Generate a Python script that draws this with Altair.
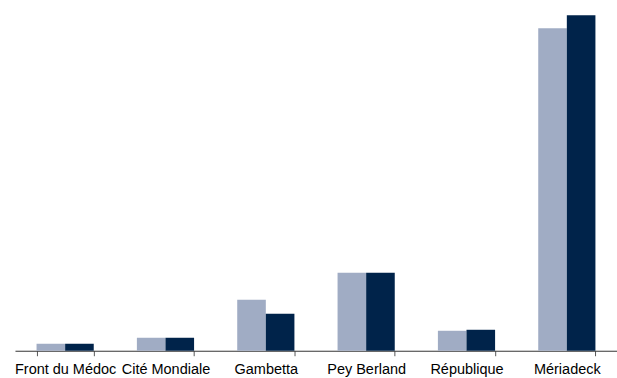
import altair as alt
import pandas as pd

# Sites and the two series compared at each one
sites = ["Front du Médoc", "Cité Mondiale", "Gambetta", "Pey Berland", "République", "Mériadeck"]
series = ["Série A", "Série B"]
values_a = [7, 13, 51, 78, 20, 323]
values_b = [7, 13, 37, 78, 21, 336]

colors = ["#A0ACC4", "#00234A"]

rows = []
for s, a, b in zip(sites, values_a, values_b):
    rows.append({"site": s, "serie": series[0], "valeur": a})
    rows.append({"site": s, "serie": series[1], "valeur": b})
df = pd.DataFrame(rows)

chart = (
    alt.Chart(df)
    .mark_bar()
    .encode(
        x=alt.X(
            "site:N",
            sort=sites,
            scale=alt.Scale(paddingInner=0.43, paddingOuter=0.215),
            axis=alt.Axis(
                title=None,
                labelAngle=0,
                ticks=True,
                tickBand="extent",
                domainColor="#333333",
                domainWidth=1,
                tickColor="#555555",
                tickWidth=1,
                tickSize=5,
                labelFont="Liberation Sans",
                labelFontSize=14.5,
                labelColor="#000000",
                labelPadding=7,
                labelOverlap=False,
                labelLimit=0,
                grid=False,
            ),
        ),
        xOffset=alt.XOffset("serie:N", sort=series),
        y=alt.Y(
            "valeur:Q",
            scale=alt.Scale(domain=[0, 351], nice=False),
            axis=None,
        ),
        color=alt.Color(
            "serie:N",
            scale=alt.Scale(domain=series, range=colors),
            legend=None,
        ),
    )
    .properties(
        width=603,
        height=351,
        autosize=alt.AutoSizeParams(type="none"),
        padding={"left": 15, "top": 0, "right": 0, "bottom": 27},
    )
    .configure_view(stroke=None)
)

chart.save("out.html", embed_options={"renderer": "svg", "actions": False})
